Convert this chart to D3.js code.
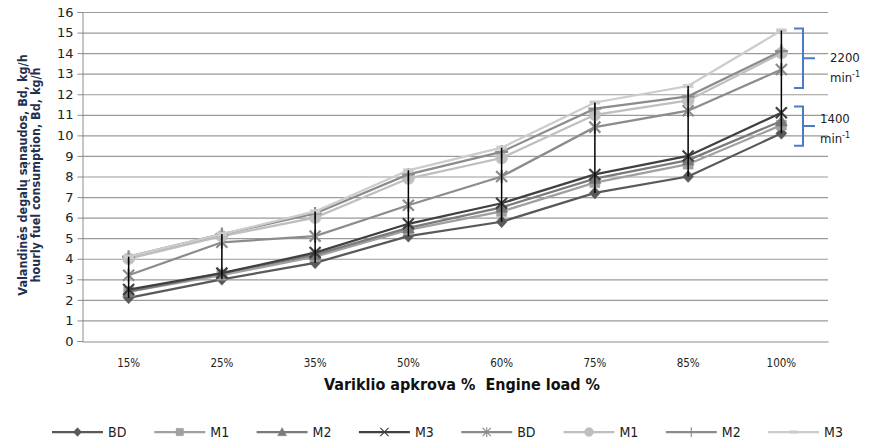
<!DOCTYPE html>
<html>
<head>
<meta charset="utf-8">
<script src="https://cdn.jsdelivr.net/npm/d3@7"></script>
<style>
  html, body { margin: 0; padding: 0; background: #fff; }
  svg { display: block; }
</style>
</head>
<body>
<div id="chart"></div>
<script>
// Engine load categories
const categories = ["15%", "25%", "35%", "50%", "60%", "75%", "85%", "100%"];
const yTicks = d3.range(0, 17);

// 1400 min-1 series
const bd1400 = [2.1, 3.0, 3.8, 5.1, 5.8, 7.2, 8.0, 10.1];
const m1_1400 = [2.4, 3.2, 4.1, 5.4, 6.3, 7.7, 8.6, 10.5];
const m2_1400 = [2.4, 3.3, 4.2, 5.5, 6.5, 7.9, 8.8, 10.7];
const m3_1400 = [2.5, 3.3, 4.3, 5.7, 6.7, 8.1, 9.0, 11.1];

// 2200 min-1 series
const bd2200 = [3.2, 4.8, 5.1, 6.6, 8.0, 10.4, 11.2, 13.2];
const m1_2200 = [4.0, 5.1, 6.0, 7.9, 8.9, 11.0, 11.7, 14.0];
const m2_2200 = [4.1, 5.2, 6.2, 8.1, 9.2, 11.3, 11.9, 14.1];
const m3_2200 = [4.1, 5.2, 6.3, 8.3, 9.4, 11.6, 12.4, 15.1];

const seriesNames = ["BD", "M1", "M2", "M3", "BD", "M1", "M2", "M3"];

const series = [
  { name: seriesNames[0], values: bd1400,  color: "#595959", marker: "diamond" },
  { name: seriesNames[1], values: m1_1400, color: "#a0a0a0", marker: "square" },
  { name: seriesNames[2], values: m2_1400, color: "#7a7a7a", marker: "triangle" },
  { name: seriesNames[3], values: m3_1400, color: "#404040", marker: "x" },
  { name: seriesNames[4], values: bd2200,  color: "#8c8c8c", marker: "asterisk" },
  { name: seriesNames[5], values: m1_2200, color: "#bfbfbf", marker: "circle" },
  { name: seriesNames[6], values: m2_2200, color: "#8c8c8c", marker: "plus" },
  { name: seriesNames[7], values: m3_2200, color: "#cccccc", marker: "dash" }
];

const W = 877, H = 443;
const plot = { left: 82, right: 828, top: 12, bottom: 341 };

const svg = d3.select("#chart").append("svg")
  .attr("width", W).attr("height", H);

const x = d3.scaleBand().domain(categories).range([plot.left, plot.right]).padding(0);
const cx = c => x(c) + x.bandwidth() / 2;
const y = d3.scaleLinear().domain([0, 16]).range([plot.bottom, plot.top]);

// horizontal gridlines
svg.append("g").selectAll("line")
  .data(yTicks.filter(t => t > 0))
  .join("line")
  .attr("x1", plot.left).attr("x2", plot.right)
  .attr("y1", d => y(d) + 0.5).attr("y2", d => y(d) + 0.5)
  .attr("stroke", "#9a9a9a").attr("stroke-width", 1.2);

// y axis
const yAxis = svg.append("g")
  .attr("transform", `translate(${plot.left + 0.5},0)`)
  .call(d3.axisLeft(y).tickValues(yTicks).tickSize(5).tickPadding(4).tickFormat(d3.format("d")));
yAxis.select(".domain").attr("stroke", "#8c8c8c");
yAxis.selectAll(".tick line").attr("stroke", "#8c8c8c");
yAxis.selectAll(".tick text")
  .attr("font-family", "'DejaVu Sans', Verdana, sans-serif")
  .attr("font-size", 13).attr("fill", "#222");

// x axis
const xAxis = svg.append("g")
  .attr("transform", `translate(0,${plot.bottom + 0.5})`)
  .call(d3.axisBottom(x).tickSize(0).tickPadding(17));
xAxis.select(".domain").attr("stroke", "#8c8c8c");
xAxis.selectAll(".tick text")
  .attr("font-family", "'DejaVu Sans Condensed', 'DejaVu Sans', sans-serif")
  .attr("font-size", 11.5).attr("fill", "#222");

// axis titles
svg.append("text")
  .attr("x", 462).attr("y", 390)
  .attr("text-anchor", "middle")
  .style("white-space", "pre")
  .attr("font-family", "'DejaVu Sans Condensed', 'DejaVu Sans', sans-serif")
  .attr("font-weight", "bold").attr("font-size", 16).attr("fill", "#111")
  .text("Variklio apkrova %  Engine load %");

const yTitle = svg.append("text")
  .attr("transform", "translate(27,175) rotate(-90)")
  .attr("text-anchor", "middle")
  .attr("font-family", "'DejaVu Sans Condensed', 'DejaVu Sans', sans-serif")
  .attr("font-weight", "bold").attr("font-size", 12.5).attr("fill", "#1f3050");
yTitle.append("tspan").attr("x", 0).attr("dy", 0).text("Valandinės degalų sąnaudos, Bd, kg/h");
yTitle.append("tspan").attr("x", 0).attr("dy", 12.5).text("hourly fuel consumption, Bd, kg/h");

// marker shapes
function markerPath(type) {
  switch (type) {
    case "diamond": return "M0,-6L5.5,0L0,6L-5.5,0Z";
    case "square": return "M-5,-5H5V5H-5Z";
    case "triangle": return "M0,-6L6,5H-6Z";
    case "x": return "M-5.5,-5.5L5.5,5.5M-5.5,5.5L5.5,-5.5";
    case "asterisk": return "M-5.5,-5.5L5.5,5.5M-5.5,5.5L5.5,-5.5M0,-6.5V6.5";
    case "circle": return "M6,0A6,6 0 1,1 -6,0A6,6 0 1,1 6,0Z";
    case "plus": return "M-6.5,0H6.5M0,-6.5V6.5";
    case "dash": return "M-5,-1.75H5V1.75H-5Z";
  }
}
const strokeOnly = t => t === "x" || t === "asterisk" || t === "plus";

function drawMarker(g, type, color, sw) {
  const p = g.append("path").attr("d", markerPath(type));
  if (strokeOnly(type)) {
    p.attr("fill", "none").attr("stroke", color).attr("stroke-width", sw || 2.2);
  } else {
    p.attr("fill", color).attr("stroke", color).attr("stroke-width", 0.5);
  }
}

const line = d3.line().x((d, i) => cx(categories[i])).y(d => y(d));

const seriesG = svg.append("g");
series.forEach(s => {
  const g = seriesG.append("g");
  g.append("path")
    .attr("d", line(s.values))
    .attr("fill", "none")
    .attr("stroke", s.color)
    .attr("stroke-width", 2.25);
  s.values.forEach((v, i) => {
    const m = g.append("g").attr("transform", `translate(${cx(categories[i])},${y(v)})`);
    drawMarker(m, s.marker, s.color);
  });
});

// high-low lines across all series at each category
svg.append("g").selectAll("line")
  .data(categories)
  .join("line")
  .attr("x1", d => cx(d)).attr("x2", d => cx(d))
  .attr("y1", (d, i) => y(d3.max(series, s => s.values[i])))
  .attr("y2", (d, i) => y(d3.min(series, s => s.values[i])))
  .attr("stroke", "#000").attr("stroke-width", 1.5);

// speed brackets
const bracketColor = "#4a7cc4";
function bracket(top, bottom, label, textY) {
  const g = svg.append("g").attr("fill", "none").attr("stroke", bracketColor).attr("stroke-width", 2);
  const bx = 803, mid = (top + bottom) / 2;
  g.append("path").attr("d", `M794,${top}H${bx}V${bottom}H794M${bx},${mid}H815`);
  const t = svg.append("text")
    .attr("font-family", "'DejaVu Sans Condensed', 'DejaVu Sans', sans-serif")
    .attr("font-size", 13).attr("fill", "#222");
  t.append("tspan").attr("x", label.x).attr("y", textY).text(label.value);
  const t2 = svg.append("text")
    .attr("x", label.x).attr("y", textY + 20)
    .attr("font-family", "'DejaVu Sans Condensed', 'DejaVu Sans', sans-serif")
    .attr("font-size", 13).attr("fill", "#222");
  t2.append("tspan").text("min");
  t2.append("tspan").attr("dy", -5).attr("font-size", 9).text("-1");
}
bracket(y(15.2), y(12.3), { x: 830, value: "2200" }, 62);
bracket(y(11.4), y(9.5), { x: 820, value: "1400" }, 123);

// legend
const legend = svg.append("g").attr("transform", "translate(0,432)");
series.forEach((s, i) => {
  const x0 = 52 + i * 102.3;
  const g = legend.append("g").attr("transform", `translate(${x0},0)`);
  g.append("line").attr("x1", 0).attr("x2", 51).attr("y1", 0).attr("y2", 0)
    .attr("stroke", s.color).attr("stroke-width", 2.25);
  const m = g.append("g").attr("transform", "translate(25.5,0) scale(0.75)");
  drawMarker(m, s.marker, s.color, 1.5);
  g.append("text").attr("x", 56).attr("y", 5)
    .attr("font-family", "'DejaVu Sans Condensed', sans-serif")
    .attr("font-size", 14).attr("fill", "#222")
    .text(s.name);
});
</script>
</body>
</html>
